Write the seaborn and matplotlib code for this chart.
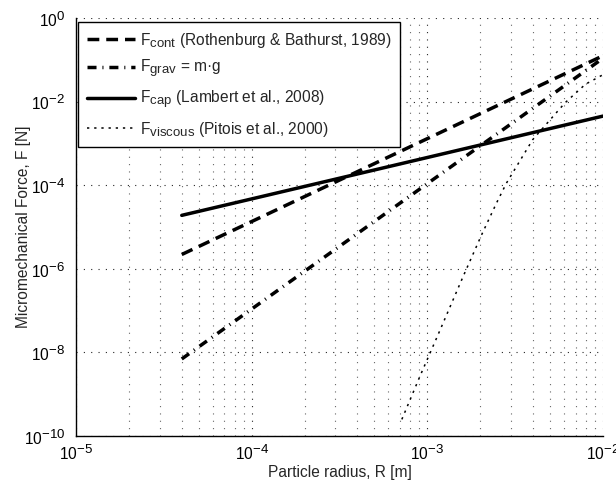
import numpy as np
import pandas as pd
import matplotlib
matplotlib.use("Agg")
import matplotlib.pyplot as plt
import matplotlib.ticker as mticker
import matplotlib._mathtext as _mt
import seaborn as sns

# larger sub/superscripts, as in the reference (MATLAB-like)
_mt.SHRINK_FACTOR = 0.85

# ---- data ----
R_lin = [4e-5, 1e-4, 1e-3, 1e-2]
F_cont = [2.2e-6, 1.35e-5, 1.3e-3, 0.125]
F_grav = [6.97e-9, 1.09e-7, 1.09e-4, 0.109]
F_cap = [1.9e-5, 4.7e-5, 4.6e-4, 4.5e-3]

R_visc = [7.16e-4, 9.08e-4, 1.153e-3, 1.6e-3, 2.04e-3, 2.48e-3, 2.82e-3,
          3.98e-3, 6.07e-3, 7.94e-3, 1e-2]
F_visc = [2.5e-10, 2.7e-9, 2.7e-8, 6.6e-7, 6.6e-6, 3.8e-5, 1.12e-4,
          1.23e-3, 9.3e-3, 2.6e-2, 4.4e-2]

labels = [r"F$_{\mathrm{cont}}$ (Rothenburg & Bathurst, 1989)",
          r"F$_{\mathrm{grav}}$ = m·g",
          r"F$_{\mathrm{cap}}$ (Lambert et al., 2008)",
          r"F$_{\mathrm{viscous}}$ (Pitois et al., 2000)"]
x_ticks = [1e-5, 1e-4, 1e-3, 1e-2]
y_ticks = [1e-10, 1e-8, 1e-6, 1e-4, 1e-2, 1e0]

# ---- style ----
sns.set_style("white")
plt.rcParams["font.family"] = ["Liberation Sans", "DejaVu Sans"]
plt.rcParams["mathtext.fontset"] = "custom"
plt.rcParams["mathtext.rm"] = "Liberation Sans"
plt.rcParams["mathtext.it"] = "Liberation Sans:italic"
plt.rcParams["mathtext.bf"] = "Liberation Sans:bold"
plt.rcParams["mathtext.default"] = "regular"
FS = 11.2
plt.rcParams["font.size"] = FS

fig = plt.figure(figsize=(6.16, 4.83), dpi=100)
ax = fig.add_axes([76 / 616, 1 - 436 / 483, (603 - 76) / 616, (436 - 18) / 483])

lw = 2.5
sns.lineplot(x=R_lin, y=F_cont, ax=ax, color="k", lw=lw, label=labels[0],
             linestyle=(0, (3.4, 2.0)), dash_capstyle="butt")
sns.lineplot(x=R_lin, y=F_grav, ax=ax, color="k", lw=lw, label=labels[1],
             linestyle=(0, (2.6, 1.7, 0.3, 1.7)), dash_capstyle="butt")
sns.lineplot(x=R_lin, y=F_cap, ax=ax, color="k", lw=lw, label=labels[2],
             linestyle="-")
sns.lineplot(x=R_visc, y=F_visc, ax=ax, color="k", lw=1.1, label=labels[3],
             linestyle=(0, (1.5, 3.2)), dash_capstyle="butt", sort=False)

ax.set_xscale("log")
ax.set_yscale("log")
ax.set_xlim(1e-5, 1e-2)
ax.set_ylim(1e-10, 1e0)

ax.xaxis.set_major_locator(mticker.FixedLocator(x_ticks))
ax.xaxis.set_minor_locator(mticker.LogLocator(base=10, subs=np.arange(2, 10)))
ax.xaxis.set_minor_formatter(mticker.NullFormatter())
ax.yaxis.set_major_locator(mticker.FixedLocator(y_ticks))
ax.yaxis.set_minor_locator(mticker.LogLocator(base=10, subs=(1.0,), numticks=20))
ax.yaxis.set_minor_formatter(mticker.NullFormatter())
ax.xaxis.set_major_formatter(mticker.LogFormatterSciNotation())
ax.yaxis.set_major_formatter(mticker.LogFormatterSciNotation())

ax.tick_params(which="both", direction="in", colors="k", width=0.7)
ax.tick_params(which="major", length=4, labelsize=FS)
ax.tick_params(axis="x", which="major", pad=5)
ax.tick_params(axis="y", which="major", pad=8)
ax.tick_params(which="minor", length=2.5)

# grid: vertical major + minor, horizontal major only
grid_dash = (0, (1, 5.6))
ax.xaxis.grid(True, which="major", color="0.15", lw=0.8, linestyle=grid_dash)
ax.xaxis.grid(True, which="minor", color="0.4", lw=0.8, linestyle=grid_dash)
ax.yaxis.grid(True, which="major", color="0.15", lw=0.8, linestyle=grid_dash)
ax.yaxis.grid(False, which="minor")

for side in ["top", "right"]:
    ax.spines[side].set_visible(False)
for side in ["left", "bottom"]:
    ax.spines[side].set_color("k")
    ax.spines[side].set_linewidth(1.0)

ax.set_xlabel("Particle radius, R [m]", fontsize=FS, labelpad=1)
ax.set_ylabel("Micromechanical Force, F [N]", fontsize=FS)
ax.yaxis.set_label_coords(-0.085, 0.5)

leg = ax.legend(loc="upper left", bbox_to_anchor=(0.004, 0.99),
                borderaxespad=0, frameon=True, fancybox=False, framealpha=1,
                edgecolor="k", handlelength=3.1, handletextpad=0.3,
                borderpad=0.55, labelspacing=0.55, fontsize=FS)
leg.get_frame().set_linewidth(1.0)

fig.savefig("out.png", dpi=100)
